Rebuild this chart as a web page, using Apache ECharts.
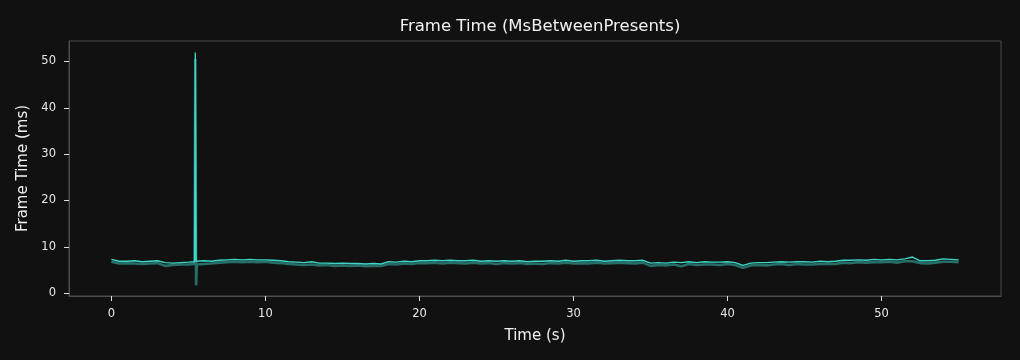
<!DOCTYPE html>
<html>
<head>
<meta charset="utf-8">
<script src="https://cdn.jsdelivr.net/npm/echarts@6/dist/echarts.min.js"></script>
<style>
html,body{margin:0;padding:0;background:#111111;}
#chart{width:1020px;height:360px;}
</style>
</head>
<body>
<div id="chart"></div>
<script>
const times = [0,0.5,1,1.5,2,2.5,3,3.5,4,4.5,5,
  5.4,5.45,5.5,5.55,
  6,6.5,7,7.5,8,8.5,9,9.5,10,10.5,
  11,11.5,12,12.5,13,13.5,14,14.5,15,15.5,
  16,16.5,17,17.5,18,18.5,19,19.5,20,20.5,
  21,21.5,22,22.5,23,23.5,24,24.5,25,25.5,
  26,26.5,27,27.5,28,28.5,29,29.5,30,30.5,
  31,31.5,32,32.5,33,33.5,34,34.5,35,35.5,
  36,36.5,37,37.5,38,38.5,39,39.5,40,40.5,
  41,41.5,42,42.5,43,43.5,44,44.5,45,45.5,
  46,46.5,47,47.5,48,48.5,49,49.5,50,50.5,
  51,51.5,52,52.5,53,53.5,54,54.5,55];

const presentsMs = [7.3,6.9,6.9,7.0,6.8,6.9,7.0,6.6,6.5,6.6,6.7,
  6.8,51.9,6.9,6.8,
  7.0,6.9,7.1,7.2,7.3,7.2,7.3,7.2,7.2,7.1,
  7.0,6.8,6.7,6.6,6.8,6.5,6.5,6.4,6.5,6.4,
  6.4,6.3,6.4,6.3,6.8,6.7,6.9,6.8,7.0,7.0,
  7.1,7.0,7.1,7.0,7.0,7.1,6.9,7.0,6.9,7.0,
  6.9,7.0,6.8,6.9,6.9,7.0,6.9,7.1,6.9,7.0,
  7.0,7.1,6.9,7.0,7.1,7.0,7.0,7.1,6.5,6.6,
  6.5,6.7,6.6,6.8,6.6,6.8,6.7,6.7,6.8,6.6,
  6.0,6.5,6.6,6.6,6.7,6.8,6.7,6.8,6.8,6.7,
  6.9,6.8,6.9,7.1,7.1,7.2,7.1,7.3,7.2,7.3,
  7.2,7.4,7.8,7.0,7.0,7.1,7.4,7.3,7.2];

const displayMs = [6.8,6.4,6.5,6.4,6.3,6.4,6.5,5.9,6.1,6.2,6.2,
  6.3,50.5,1.7,6.2,
  6.3,6.4,6.6,6.7,6.8,6.7,6.8,6.7,6.8,6.6,
  6.5,6.3,6.2,6.1,6.2,6.0,6.1,5.9,6.0,5.9,
  6.0,5.8,5.9,5.9,6.3,6.2,6.4,6.3,6.5,6.5,
  6.6,6.4,6.6,6.5,6.4,6.6,6.4,6.5,6.3,6.5,
  6.4,6.5,6.3,6.4,6.3,6.5,6.4,6.6,6.4,6.5,
  6.4,6.6,6.4,6.5,6.6,6.5,6.4,6.6,5.9,6.1,
  6.0,6.2,5.8,6.3,6.1,6.2,6.2,6.1,6.3,6.1,
  5.5,6.0,6.1,6.0,6.2,6.3,6.1,6.3,6.2,6.2,
  6.3,6.3,6.3,6.6,6.5,6.7,6.6,6.7,6.7,6.8,
  6.6,6.9,6.9,6.5,6.4,6.6,6.8,6.8,6.7];

const xTicks = [0,10,20,30,40,50];
const yTicks = [0,10,20,30,40,50];

const font = 'DejaVu Sans';
const chart = echarts.init(document.getElementById('chart'), null, {renderer:'canvas'});
chart.setOption({
  backgroundColor: '#111111',
  animation: false,
  title: {
    text: 'Frame Time (MsBetweenPresents)',
    left: 535, top: 13, textAlign: 'center',
    textStyle: {color:'#f2f2f2', fontFamily:font, fontSize:16.5, fontWeight:'normal'}
  },
  grid: {left:69, right:19, top:41, bottom:64, show:true, borderColor:'#4d4d4d', borderWidth:1, backgroundColor:'#111111'},
  xAxis: {
    type:'value', min:-2.75, max:57.75,
    name:'Time (s)', nameLocation:'middle', nameGap:33,
    nameTextStyle:{color:'#f0f0f0', fontFamily:font, fontSize:15},
    axisLine:{show:true, onZero:false, lineStyle:{color:'#4d4d4d'}},
    axisTick:{show:true, length:5, customValues:xTicks, lineStyle:{color:'#e0e0e0'}},
    axisLabel:{color:'#e8e8e8', fontFamily:font, fontSize:11.5, margin:12, customValues:xTicks},
    splitLine:{show:false}
  },
  yAxis: {
    type:'value', min:-0.6, max:54.4,
    name:'Frame Time (ms)', nameLocation:'middle', nameGap:31, nameRotate:90,
    nameTextStyle:{color:'#f0f0f0', fontFamily:font, fontSize:15},
    axisLine:{show:true, onZero:false, lineStyle:{color:'#4d4d4d'}},
    axisTick:{show:true, length:5, customValues:yTicks, lineStyle:{color:'#e0e0e0'}},
    axisLabel:{color:'#e8e8e8', fontFamily:font, fontSize:11.5, margin:13, customValues:yTicks},
    splitLine:{show:false}
  },
  series: [
    {
      type:'line', name:'MsBetweenDisplayChange',
      data: times.map((t,i)=>[t, displayMs[i]]),
      showSymbol:false, sampling:null,
      lineStyle:{color:'#40E0D0', width:2.6, opacity:0.45}
    },
    {
      type:'line', name:'MsBetweenPresents',
      data: times.map((t,i)=>[t, presentsMs[i]]),
      showSymbol:false, sampling:null,
      lineStyle:{color:'#40E0D0', width:1.4, opacity:0.95}
    }
  ]
});
</script>
</body>
</html>
